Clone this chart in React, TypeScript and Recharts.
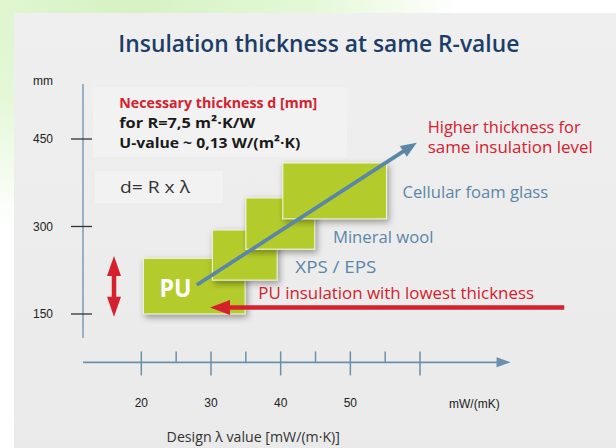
import React from "react";
import {
  ComposedChart,
  XAxis,
  YAxis,
  ReferenceArea,
  ReferenceLine,
  ReferenceDot,
} from "recharts";

// axes: design lambda value (mW/(m·K)) and insulation thickness (mm)
const X_DOMAIN: [number, number] = [11.63, 85];
const Y_DOMAIN: [number, number] = [67, 650];
const xTicks = [20, 25, 30, 35, 40, 45, 50, 55, 60];
const xTickLabels = [20, 30, 40, 50];
const yTicks = [150, 300, 450];
const X_UNIT = "mW/(mK)";
const X_UNIT_AT = 67.8;
const Y_UNIT = "mm";
const Y_UNIT_AT = 549.5;

// materials, drawn as overlapping blocks (lambda range x thickness range)
const materials = ["PU", "XPS / EPS", "Mineral wool", "Cellular foam glass"];
const lambdaFrom = [20.3, 30.2, 35.0, 40.3];
const lambdaTo = [34.9, 39.5, 44.9, 55.2];
const thickFrom = [150, 208, 261, 313];
const thickTo = [245.5, 294, 349, 409];
const labelLambda = [22.6, 42.1, 47.5, 57.5];
const labelThick = [179.7, 219.8, 272.2, 348.4];

// arrows (lambda, thickness)
const trendFrom = { x: 27.95, y: 199.7 };
const trendTo = { x: 59.53, y: 443.7 };
const lowestFrom = { x: 80.7, y: 161.1 };
const lowestTo = { x: 29.86, y: 161.1 };
const spanLambda = 16.08;
const spanThick = [145.4, 249.4];

const FONT = "'Open Sans', 'Noto Sans', sans-serif";
const AXIS_FONT = "'Liberation Sans', Arial, sans-serif";
const GREEN = "#b4cc2b";
const BLUE = "#5a87a8";
const AXIS_BLUE = "#6a90ad";
const RED = "#d5202e";
const NAVY = "#1b3d68";

type TextOpts = {
  size: number;
  color: string;
  weight?: number;
  anchor?: "start" | "middle" | "end";
  width?: number;
  family?: string;
};

const textShape = (t: string, o: TextOpts) => (p: any) => (
  <text
    x={p.cx}
    y={p.cy}
    fontSize={o.size}
    fill={o.color}
    fontWeight={o.weight ?? 400}
    textAnchor={o.anchor ?? "start"}
    fontFamily={o.family ?? FONT}
    textLength={o.width}
    lengthAdjust="spacingAndGlyphs"
  >
    {t}
  </text>
);

const arrowShape =
  (color: string, width: number, headLen: number, headW: number, both = false) =>
  (p: any) => {
    const { x1, y1, x2, y2 } = p;
    const len = Math.hypot(x2 - x1, y2 - y1) || 1;
    const ux = (x2 - x1) / len;
    const uy = (y2 - y1) / len;
    const nx = -uy;
    const ny = ux;
    const head = (tx: number, ty: number, sx: number, sy: number) => {
      const bx = tx - sx * headLen;
      const by = ty - sy * headLen;
      return `${tx},${ty} ${bx + (nx * headW) / 2},${by + (ny * headW) / 2} ${
        bx - (nx * headW) / 2
      },${by - (ny * headW) / 2}`;
    };
    const sx = both ? x1 + ux * headLen * 0.8 : x1;
    const sy = both ? y1 + uy * headLen * 0.8 : y1;
    return (
      <g>
        <line
          x1={sx}
          y1={sy}
          x2={x2 - ux * headLen * 0.8}
          y2={y2 - uy * headLen * 0.8}
          stroke={color}
          strokeWidth={width}
        />
        <polygon points={head(x2, y2, ux, uy)} fill={color} />
        {both && <polygon points={head(x1, y1, -ux, -uy)} fill={color} />}
      </g>
    );
  };

const blockShape = (p: any) => (
  <rect
    x={p.x}
    y={p.y}
    width={p.width}
    height={p.height}
    fill={GREEN}
    stroke="#eef3d6"
    strokeWidth={1.2}
    style={{ filter: "drop-shadow(2px 3px 3px rgba(0,0,0,0.35))" }}
  />
);

const XTick = (p: any) => {
  const v = p.payload.value;
  const { x, y } = p;
  if (v === X_UNIT_AT) {
    return (
      <text x={x} y={y + 46} textAnchor="middle" fontSize={12} fill="#222" fontFamily={AXIS_FONT}>
        {X_UNIT}
      </text>
    );
  }
  const major = v % 10 === 0;
  return (
    <g>
      <line x1={x} x2={x} y1={y - 11} y2={major ? y + 13 : y} stroke={AXIS_BLUE} strokeWidth={1.5} />
      {xTickLabels.includes(v) && (
        <text x={x} y={y + 45} textAnchor="middle" fontSize={12} fill="#222" fontFamily={AXIS_FONT}>
          {v}
        </text>
      )}
    </g>
  );
};

const YTick = (p: any) => {
  const v = p.payload.value;
  const { x, y } = p;
  if (v === Y_UNIT_AT) {
    return (
      <text x={x - 50} y={y + 4} fontSize={12} fill="#222" fontFamily={AXIS_FONT}>
        {Y_UNIT}
      </text>
    );
  }
  return (
    <g>
      <line x1={x - 12} x2={x + 9} y1={y} y2={y} stroke="#333" strokeWidth={1.3} />
      <text x={x - 30} y={y + 4.3} textAnchor="end" fontSize={12} fill="#222" fontFamily={AXIS_FONT}>
        {v}
      </text>
    </g>
  );
};

export default function App() {
  return (
    <div
      style={{
        position: "absolute",
        left: 0,
        top: 0,
        width: 616,
        height: 448,
        overflow: "hidden",
        background:
          "radial-gradient(ellipse 330px 240px at 130px 0px, #d6f1c4 0%, #e4f8d6 55%, #ffffff 100%)",
      }}
    >
      <div
        style={{
          position: "absolute",
          left: 14,
          top: 13,
          right: 0,
          bottom: 0,
          background: "linear-gradient(#efefef, #eaeaea)",
        }}
      />
      <div style={{ position: "absolute", left: 93, top: 87, width: 254, height: 70, background: "#f2f2f2" }} />
      <div style={{ position: "absolute", left: 95, top: 171, width: 128, height: 32, background: "#f2f2f2" }} />
      <div style={{ position: "absolute", left: 0, top: 0 }}>
        <ComposedChart width={616} height={448} data={[]} margin={{ top: 22.35, right: 21.8, left: 0, bottom: 0 }}>
          <XAxis
            type="number"
            dataKey="x"
            domain={X_DOMAIN}
            allowDataOverflow
            ticks={[...xTicks, X_UNIT_AT]}
            interval={0}
            height={85.6}
            axisLine={false}
            tickLine={false}
            tickSize={0}
            tickMargin={0}
            tick={XTick}
          />
          <YAxis
            type="number"
            dataKey="y"
            domain={Y_DOMAIN}
            allowDataOverflow
            ticks={[...yTicks, Y_UNIT_AT]}
            interval={0}
            width={83}
            axisLine={false}
            tickLine={false}
            tickSize={0}
            tickMargin={0}
            tick={YTick}
          />

          {/* axis lines */}
          <ReferenceLine
            segment={[
              { x: X_DOMAIN[0], y: 108.9 },
              { x: X_DOMAIN[0], y: 544.3 },
            ]}
            stroke={AXIS_BLUE}
            strokeWidth={1.3}
          />
          <ReferenceLine
            segment={[
              { x: X_DOMAIN[0], y: 67.2 },
              { x: 73.0, y: 67.2 },
            ]}
            shape={arrowShape(AXIS_BLUE, 1.8, 14, 10)}
          />

          {materials.map((m, i) => (
            <ReferenceArea
              key={m}
              x1={lambdaFrom[i]}
              x2={lambdaTo[i]}
              y1={thickFrom[i]}
              y2={thickTo[i]}
              shape={blockShape}
            />
          ))}

          <ReferenceLine segment={[trendFrom, trendTo]} shape={arrowShape(BLUE, 3.8, 16, 13)} />
          <ReferenceLine segment={[lowestFrom, lowestTo]} shape={arrowShape(RED, 4.5, 20, 15)} />
          <ReferenceLine
            segment={[
              { x: spanLambda, y: spanThick[0] },
              { x: spanLambda, y: spanThick[1] },
            ]}
            shape={arrowShape(RED, 4.5, 20, 14, true)}
          />

          {materials.map((m, i) => (
            <ReferenceDot
              key={"l" + m}
              x={labelLambda[i]}
              y={labelThick[i]}
              shape={
                i === 0
                  ? textShape(m, { size: 25, color: "#ffffff", weight: 700, width: 32 })
                  : textShape(m, {
                      size: 16,
                      color: BLUE,
                      weight: 500,
                      width: [0, 81, 100.6, 145.6][i],
                    })
              }
            />
          ))}

          <ReferenceDot
            x={45.48}
            y={599.2}
            shape={textShape("Insulation thickness at same R-value", {
              size: 23,
              color: NAVY,
              weight: 600,
              anchor: "middle",
              width: 401,
            })}
          />
          <ReferenceDot
            x={16.84}
            y={502.6}
            shape={textShape("Necessary thickness d [mm]", { size: 15, color: RED, weight: 700, width: 198 })}
          />
          <ReferenceDot
            x={16.84}
            y={468.4}
            shape={textShape("for R=7,5 m²·K/W", { size: 15, color: "#1a1a1a", weight: 700, width: 136 })}
          />
          <ReferenceDot
            x={16.84}
            y={434.1}
            shape={textShape("U-value ~ 0,13 W/(m²·K)", { size: 15, color: "#1a1a1a", weight: 700, width: 181 })}
          />
          <ReferenceDot
            x={16.94}
            y={357.4}
            shape={textShape("d= R x λ", { size: 16, color: "#333", width: 70 })}
          />
          <ReferenceDot
            x={61.1}
            y={459.8}
            shape={textShape("Higher thickness for", { size: 16, color: RED, width: 153 })}
          />
          <ReferenceDot
            x={61.1}
            y={425.5}
            shape={textShape("same insulation level", { size: 16, color: RED, width: 165 })}
          />
          <ReferenceDot
            x={36.79}
            y={175.2}
            shape={textShape("PU insulation with lowest thickness", { size: 16, color: RED, width: 275.7 })}
          />
          <ReferenceDot
            x={36.07}
            y={-69.4}
            ifOverflow="visible"
            shape={textShape("Design λ value [mW/(m·K)]", {
              size: 14,
              color: "#333",
              anchor: "middle",
              width: 173.3,
            })}
          />
        </ComposedChart>
      </div>
    </div>
  );
}
